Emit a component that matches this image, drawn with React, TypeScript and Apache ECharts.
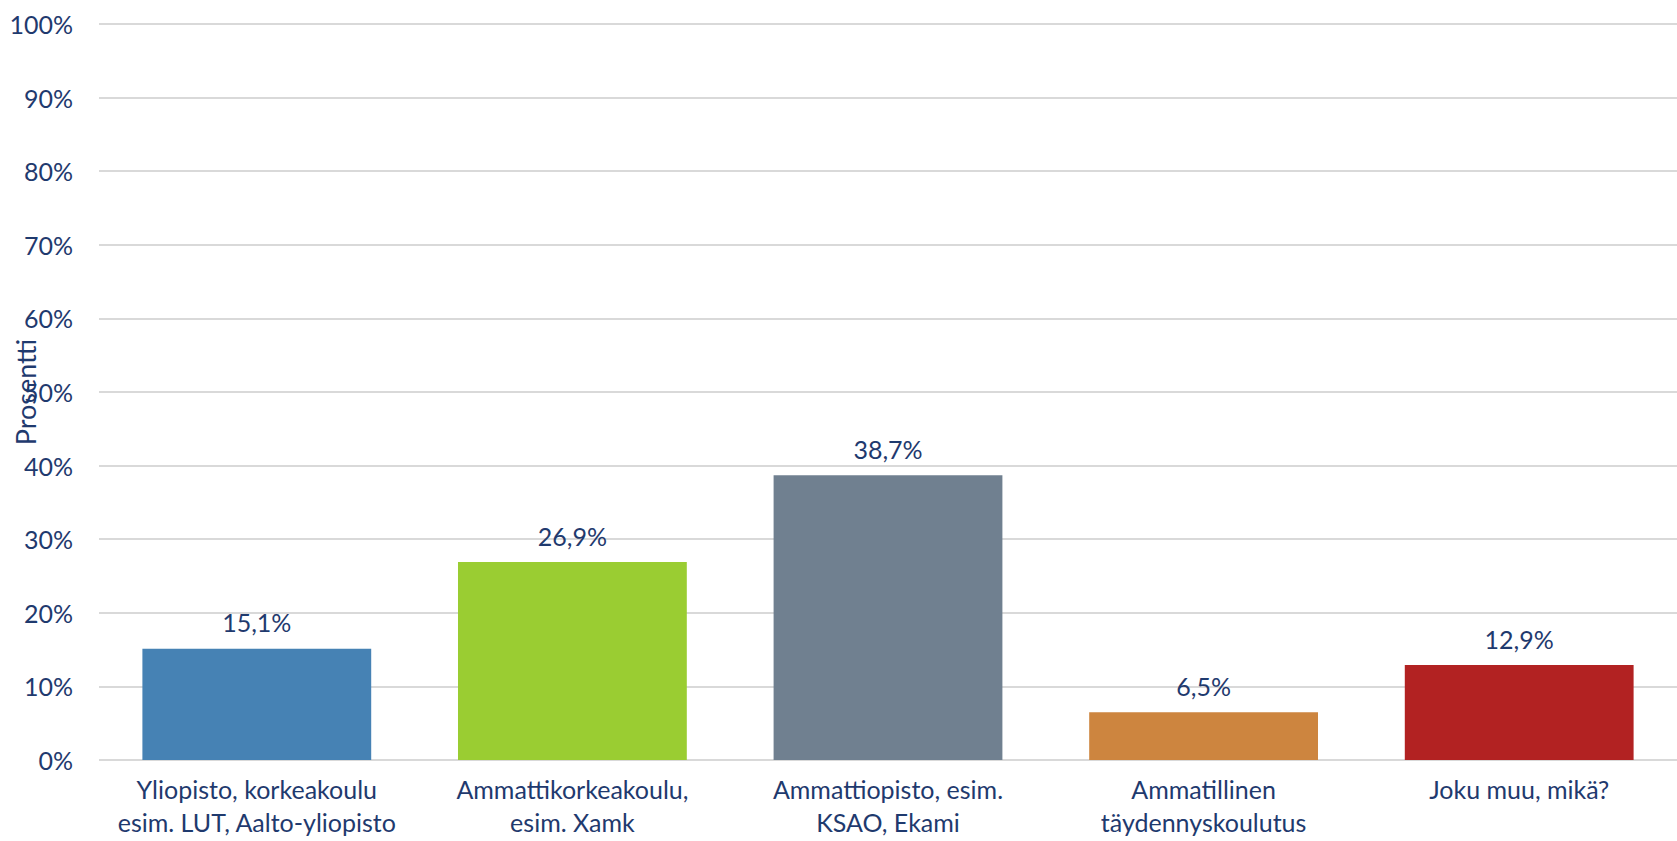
import React, { useEffect, useRef } from "react";
import * as echarts from "echarts";

const categories = [
  "Yliopisto, korkeakoulu\nesim. LUT, Aalto-yliopisto",
  "Ammattikorkeakoulu,\nesim. Xamk",
  "Ammattiopisto, esim.\nKSAO, Ekami",
  "Ammatillinen\ntäydennyskoulutus",
  "Joku muu, mikä?",
];
const values = [15.1, 26.9, 38.7, 6.5, 12.9];
const barColors = ["#4682B4", "#9ACD32", "#708090", "#CD853F", "#B22222"];
const axisTitle = "Prosentti";

const TEXT = "#1f3a6e";
const FONT = "Lato, 'Open Sans', sans-serif";

export default function App() {
  const ref = useRef<HTMLDivElement>(null);
  useEffect(() => {
    if (!ref.current) return;
    const chart = echarts.init(ref.current, null, { renderer: "svg" });
    chart.setOption({
      animation: false,
      backgroundColor: "#ffffff",
      textStyle: { fontFamily: FONT },
      grid: {
        left: 99,
        right: 0,
        top: 24,
        bottom: 81,
        containLabel: false,
        outerBoundsMode: "none",
      },
      xAxis: {
        type: "category",
        data: categories,
        axisLine: { show: false },
        axisTick: { show: false },
        axisLabel: {
          interval: 0,
          color: TEXT,
          fontSize: 25,
          lineHeight: 33,
          margin: 12,
          fontFamily: FONT,
        },
      },
      yAxis: {
        type: "value",
        min: 0,
        max: 100,
        interval: 10,
        name: axisTitle,
        nameLocation: "middle",
        nameRotate: 90,
        nameGap: 60,
        nameMoveOverlap: false,
        nameTextStyle: { color: TEXT, fontSize: 27, fontFamily: FONT },
        axisLine: { show: false },
        axisTick: { show: false },
        axisLabel: {
          color: TEXT,
          fontSize: 25,
          margin: 26,
          fontFamily: FONT,
          formatter: (v: number) => `${v}%`,
        },
        splitLine: { lineStyle: { color: "#d9d9d9", width: 2 } },
      },
      series: [
        {
          type: "bar",
          barCategoryGap: "27.5%",
          data: values.map((v, i) => ({ value: v, itemStyle: { color: barColors[i] } })),
          label: {
            show: true,
            position: "top",
            distance: 14,
            color: TEXT,
            fontSize: 25,
            fontFamily: FONT,
            formatter: (p: any) => `${String(p.value).replace(".", ",")}%`,
          },
        },
      ],
    });
    return () => chart.dispose();
  }, []);
  return (
    <div
      ref={ref}
      style={{ position: "absolute", left: 0, top: 0, width: 1677, height: 841 }}
    />
  );
}
